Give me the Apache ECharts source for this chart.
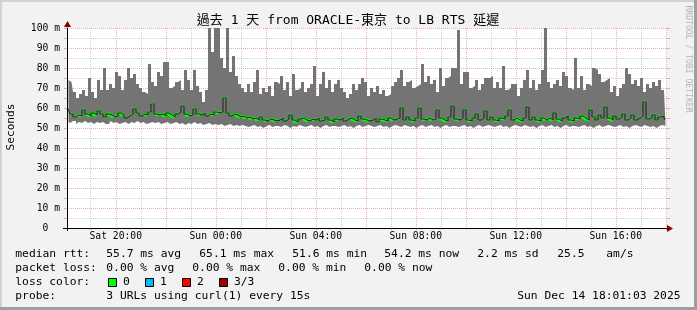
<!DOCTYPE html>
<html><head><meta charset="utf-8">
<script src="https://cdn.jsdelivr.net/npm/echarts@6/dist/echarts.min.js"></script>
<style>html,body{margin:0;padding:0;background:#f2f2f2}#c{width:697px;height:310px}</style>
</head><body><div id="c"></div>
<script>
// ---- data (ms) ----
const startHour = 18.05;      // left edge of the plot: Sat 18:03 (hours since Sat 00:00)
const spanHours = 24;
const colHours = 0.12;        // one smoke column
const maxRtt = [
 74,73,68,65,67,69,66,75,68,65,
 74,69,80,69,72,70,78,76,69,74,
 80,75,77,72,70,68,67,82,73,71,
 78,76,83,83,70,71,73,74,69,79,
 74,69,79,71,68,63,69,100,88,100,
 100,85,80,100,78,86,76,72,70,68,
 72,68,73,79,67,70,68,71,66,73,
 72,76,69,73,66,77,69,70,73,68,
 70,72,81,66,72,78,70,74,68,72,
 74,70,68,65,67,72,69,72,75,73,
 66,70,68,71,67,69,66,67,71,73,
 75,79,71,73,74,70,71,72,82,73,
 76,72,74,68,80,71,75,76,80,80,
 99,72,78,78,70,71,74,69,72,75,
 75,76,70,73,70,81,69,70,72,72,
 66,70,74,79,70,74,69,72,79,100,
 73,70,72,74,71,78,76,70,69,85,
 70,76,69,72,71,80,79,77,73,74,
 75,68,71,66,70,72,80,77,72,74,
 71,75,68,72,70,73,71,74,69,70
];
const minRtt = [
 53,52.5,53.5,52,53,52.5,53.5,52.5,53,52,
 53,52.5,53,52,53.5,52.5,53,52,52.5,53,
 52,53,52.5,53.5,52.5,53,52,52.5,53,52.5,
 53,52,52.5,53,52,52.5,53,52,52.5,51.5,
 52.5,52,53,52,52.5,51.5,52,52.5,51.5,52,
 51.5,52,51,51.5,52,51,51.5,51,51.5,51,
 50.5,51,51.5,50.5,51,50,51,51.5,50.5,51,
 51,50.5,51.5,51,50,51,50.5,51.5,51,50.5,
 51,51.5,50.5,51,50,51,51.5,50.5,51,51,
 50.5,51,51.5,50.5,51,50,51,51.5,50.5,51,
 51.5,51,50.5,51,51.5,50.5,51,50,51,51.5,
 51,50.5,51.5,51,50.5,51,50,51,51.5,50.5,
 51,51.5,50.5,51,50,51,51.5,50.5,51,51,
 50.5,51,51.5,50.5,51,50,51,51.5,50.5,51,
 51.5,51,50.5,51,51.5,50.5,51,50,51,51.5,
 51,50.5,51.5,51,50.5,51,50,51,51.5,50.5,
 51,51.5,50.5,51,50,51,51.5,50.5,51,51,
 50.5,51,51.5,50.5,51,50,51,51.5,50.5,51,
 51.5,51,50.5,51,51.5,50.5,51,50,51,51.5,
 51,50.5,51.5,51,50.5,51,50,51,51.5,51
];
const medianRtt = [
 59.5,57,55.5,56.5,56,59,57,56,57.5,56.5,
 58.5,57,55.5,57,56.5,55.5,56,57.5,56.5,55,
 56,57,59.5,57.5,56,57,56.5,58,62,57,
 56.5,57,56,57.5,56.5,55.5,57,58,61,57,
 56,56.5,59.5,57,56.5,57.5,56,57,56.5,58,
 57.5,58,65,57.5,56,57,56.5,55.5,56,55,
 55.5,54.5,55,54,55.5,54,53.5,54.5,54,53.5,
 54,55,53.5,54.5,56.5,54,53,54.5,55,54,
 53.5,54.5,54,55,53.5,54,55.5,54,53,54.5,
 54,55,53.5,54.5,55,54,53.5,56,54.5,54,
 53.5,54,55,53,54.5,54,53.5,55,54,54.5,
 55,60,54,55.5,54,53.5,55,60,54.5,54,
 55,54,54.5,59,55,54,53.5,55.5,61,54.5,
 54,55,59,54,53.5,55,57,54,55,58.5,
 54,55.5,54,53.5,55,54.5,56,59,54,55,
 54,53.5,55,60.5,54,55.5,54,53.5,55,54,
 55,54,57.5,54.5,53.5,55,56,54,53.5,55,
 54.5,56,55,54,59,55.5,54,56.5,55,60.5,
 55,54,56,54.5,55.5,57,54,55,56.5,54,
 55,56,63,54.5,55,56.5,54,55.5,56,54.5
];
const gridHours = [19,20,21,22,23,24,25,26,27,28,29,30,31,32,33,34,35,36,37,38,39,40,41,42];
const labelHours = [20,24,28,32,36,40];
const statsLine1 = [["median rtt:",16],["55.7 ms avg",107],["65.1 ms max",200],["51.6 ms min",293],["54.2 ms now",385],["2.2 ms sd",478],["25.5",558],["am/s",607]];
const statsLine2 = [["packet loss:",16],["0.00 % avg",107],["0.00 % max",193],["0.00 % min",279],["0.00 % now",365]];
const lossColors = [["0","#00ff00"],["1","#00b8ff"],["2","#ff0000"],["3/3","#a00000"]];

// ---- chart ----
const MONO = '"DejaVu Sans Mono","Noto Sans CJK TC",monospace';
const minorGrid = 'rgba(140,140,140,0.38)';
const majorGrid = 'rgba(190,40,40,0.36)';
const times = maxRtt.map((_, i) => startHour + (i + 0.5) * colHours);
// rows are [value, time] so that stacking acts on the value (y) dimension
const rows = f => times.map((t, i) => [f(i), t]);
const enc = {x: 1, y: 0};
const noLine = {width: 0, opacity: 0};

const graphics = [];
const txt = (text, x, y, size, opts) => graphics.push(Object.assign({
  type: 'text', x: x, y: y, silent: true,
  style: Object.assign({text: text, font: size + 'px ' + MONO, fill: '#000',
    align: 'left', verticalAlign: 'middle', textAlign: 'left', textVerticalAlign: 'middle'}, (opts && opts.style) || {})
}, (opts && opts.el) || {}));
// frame shading
graphics.push({type:'rect', shape:{x:0,y:0,width:697,height:2}, style:{fill:'#d2d2d2'}, silent:true});
graphics.push({type:'rect', shape:{x:0,y:0,width:2,height:310}, style:{fill:'#d2d2d2'}, silent:true});
graphics.push({type:'rect', shape:{x:0,y:307,width:697,height:3}, style:{fill:'#9e9e9e'}, silent:true});
graphics.push({type:'rect', shape:{x:694,y:0,width:3,height:310}, style:{fill:'#9e9e9e'}, silent:true});
// axis origin cross and arrows
graphics.push({type:'line', shape:{x1:63,y1:228.5,x2:67,y2:228.5}, style:{stroke:'#000',lineWidth:1}, silent:true, z:10});
graphics.push({type:'line', shape:{x1:67.5,y1:228,x2:67.5,y2:231}, style:{stroke:'#000',lineWidth:1}, silent:true, z:10});
graphics.push({type:'polygon', shape:{points:[[64,27],[71,27],[67.5,21]]}, style:{fill:'#800000'}, silent:true});
graphics.push({type:'polygon', shape:{points:[[667,225],[667,232],[673,228.5]]}, style:{fill:'#800000'}, silent:true});
// texts
txt('過去 1 天 from ORACLE-東京 to LB RTS 延遲', 348, 21, 13, {style:{align:'center', textAlign:'center'}});
txt('Seconds', 11, 127, 11.1, {style:{align:'center', textAlign:'center'}, el:{rotation: Math.PI/2}});
txt('RRDTOOL / TOBI OETIKER', 688, 59, 8.1, {style:{align:'center', textAlign:'center', fill:'#b4b4b4'}, el:{rotation: -Math.PI/2}});
statsLine1.forEach(([s, x]) => txt(s, x - 0.7, 254, 11.3));
statsLine2.forEach(([s, x]) => txt(s, x - 0.7, 268, 11.3));
txt('loss color:', 15.3, 282, 11.3);
const boxX = [108.5, 145.5, 182.5, 219.5];
lossColors.forEach(([s, c], k) => {
  graphics.push({type:'rect', shape:{x:boxX[k], y:278.5, width:8, height:8}, style:{fill:c, stroke:'#000', lineWidth:1}, silent:true});
  txt(s, boxX[k] + 14.5, 282, 11.3);
});
txt('probe:', 15.3, 296, 11.3);
txt('3 URLs using curl(1) every 15s', 106.3, 296, 11.3);
txt('Sun Dec 14 18:01:03 2025', 680.5, 296, 11.3, {style:{align:'right', textAlign:'right'}});

const pad = n => (n < 10 ? '0' : '') + n;
const chart = echarts.init(document.getElementById('c'), null, {renderer: 'canvas'});
chart.setOption({
  animation: false,
  backgroundColor: '#f2f2f2',
  grid: {left: 67, top: 28, width: 600, height: 200, show: true, backgroundColor: '#ffffff', borderWidth: 0, containLabel: false},
  xAxis: {
    type: 'value', min: startHour, max: startHour + spanHours,
    axisLine: {show: true, onZero: false, lineStyle: {color: '#000', width: 1}},
    axisTick: {show: true, customValues: gridHours, length: 2, lineStyle: {color: majorGrid}},
    axisLabel: {customValues: labelHours, margin: 4, color: '#000', fontFamily: MONO, fontSize: 9.7,
      formatter: v => (v < 24 ? 'Sat ' : 'Sun ') + pad(Math.round(v) % 24) + ':00'},
    splitLine: {show: true, lineStyle: {color: [minorGrid, majorGrid], type: [1, 1], width: 1}}
  },
  yAxis: [{
    type: 'value', min: 0, max: 100, interval: 5,
    axisLine: {show: true, lineStyle: {color: '#000', width: 1}},
    axisTick: {show: true, length: 3, lineStyle: {color: majorGrid}},
    axisLabel: {margin: 7, color: '#000', fontFamily: MONO, fontSize: 9.7,
      formatter: v => (v % 10 ? '' : (v === 0 ? '0  ' : v + ' m'))},
    splitLine: {show: true, lineStyle: {color: [majorGrid, minorGrid], type: [1, 1], width: 1}}
  }, {
    type: 'value', position: 'right', min: 0, max: 100, interval: 5,
    axisLine: {show: false}, axisLabel: {show: false}, splitLine: {show: false},
    axisTick: {show: true, length: 3, lineStyle: {color: majorGrid}}
  }],
  series: [
    {type: 'line', stack: 'smoke', step: 'middle', symbol: 'none', silent: true, encode: enc,
     data: rows(i => minRtt[i]), lineStyle: noLine},
    {type: 'line', stack: 'smoke', step: 'middle', symbol: 'none', silent: true, encode: enc,
     data: rows(i => maxRtt[i] - minRtt[i]), lineStyle: noLine, areaStyle: {color: '#747474', opacity: 1}},
    {type: 'line', step: 'middle', symbol: 'none', silent: true, encode: enc,
     data: rows(i => medianRtt[i]), lineStyle: {color: '#202020', width: 1}},
    {type: 'line', stack: 'med', step: 'middle', symbol: 'none', silent: true, encode: enc,
     data: rows(i => medianRtt[i] - 0.65), lineStyle: noLine},
    {type: 'line', stack: 'med', step: 'middle', symbol: 'none', silent: true, encode: enc,
     data: rows(i => 1.3), lineStyle: noLine, areaStyle: {color: '#00ff00', opacity: 1}}
  ],
  graphic: graphics
});
</script></body></html>
